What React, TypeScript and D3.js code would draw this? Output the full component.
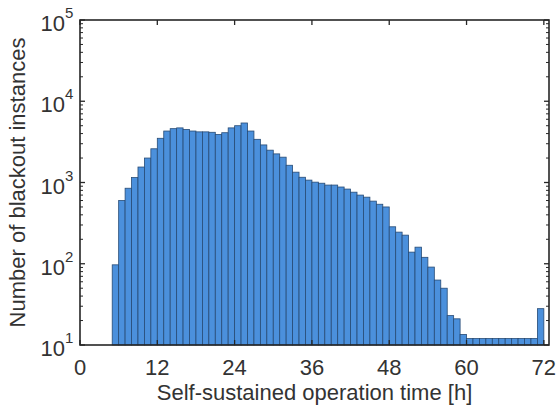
import * as d3 from 'd3';

// hourly bins of self-sustained operation time (bin start, in hours)
const binStart = [
  5, 6, 7, 8, 9, 10, 11, 12, 13, 14, 15, 16, 17, 18, 19, 20, 21, 22, 23, 24,
  25, 26, 27, 28, 29, 30, 31, 32, 33, 34, 35, 36, 37, 38, 39, 40, 41, 42, 43, 44,
  45, 46, 47, 48, 49, 50, 51, 52, 53, 54, 55, 56, 57, 58, 59, 60, 61, 62, 63, 64,
  65, 66, 67, 68, 69, 70, 71,
];

// number of blackout instances per bin
const counts = [
  97, 600, 850, 1150, 1550, 2000, 2600, 3500, 4300, 4600, 4700, 4500, 4300, 4200, 4200, 4150, 3900, 4100, 4700, 5000,
  5400, 4300, 3400, 2900, 2500, 2250, 2050, 1630, 1340, 1160, 1070, 1010, 980, 930, 930, 880, 830, 760, 700, 660,
  590, 540, 500, 285, 245, 225, 139, 160, 120, 91, 63, 50, 23, 21, 13.5, 12, 12, 12, 12, 12,
  12, 12, 12, 12, 12, 12, 28,
];

const xTicks = [0, 12, 24, 36, 48, 60, 72];
const yExponents = [1, 2, 3, 4, 5];

const W = 559;
const H = 408;
const margin = { top: 20, right: 10, bottom: 63, left: 80 };
const ink = '#262626';
const font = 'Arial, "Liberation Sans", Helvetica, sans-serif';

export default function App() {
  const x = d3.scaleLinear().domain([0, 72.8]).range([margin.left, W - margin.right]);
  const y = d3.scaleLog().domain([10, 1e5]).range([H - margin.bottom, margin.top]);

  const [x0, x1] = x.range();
  const [yb, yt] = y.range();

  // minor log ticks (2..9 within each decade)
  const minor: number[] = [];
  yExponents.slice(0, -1).forEach((e) => {
    for (let k = 2; k <= 9; k++) minor.push(k * Math.pow(10, e));
  });

  return (
    <svg width={W} height={H} style={{ position: 'absolute', left: 0, top: 0, background: '#fff' }}>
      {/* bars */}
      <g>
        {binStart.map((h, i) => (
          <rect
            key={h}
            x={x(h)}
            y={y(counts[i])}
            width={x(h + 1) - x(h)}
            height={yb - y(counts[i])}
            fill="#4b90dc"
            stroke="#274b75"
            strokeWidth={0.8}
          />
        ))}
      </g>

      {/* frame */}
      <rect x={x0} y={yt} width={x1 - x0} height={yb - yt} fill="none" stroke={ink} strokeWidth={1.6} />

      {/* x ticks, bottom and top */}
      {xTicks.map((t) => (
        <g key={'xt' + t}>
          <line x1={x(t)} x2={x(t)} y1={yb} y2={yb - 5} stroke={ink} strokeWidth={1.3} />
          <line x1={x(t)} x2={x(t)} y1={yt} y2={yt + 5} stroke={ink} strokeWidth={1.3} />
          <text
            x={x(t)}
            y={yb + 30}
            textAnchor="middle"
            fontFamily={font}
            fontSize={22}
            fill="#333"
          >
            {t}
          </text>
        </g>
      ))}

      {/* y major ticks with 10^n labels */}
      {yExponents.map((e) => {
        const v = Math.pow(10, e);
        return (
          <g key={'yt' + e}>
            <line x1={x0} x2={x0 + 5} y1={y(v)} y2={y(v)} stroke={ink} strokeWidth={1.3} />
            <line x1={x1} x2={x1 - 5} y1={y(v)} y2={y(v)} stroke={ink} strokeWidth={1.3} />
            <text x={x0 - 15} y={y(v) + 11} textAnchor="end" fontFamily={font} fontSize={22} fill="#333">
              10
            </text>
            <text x={x0 - 15} y={y(v) - 2} textAnchor="start" fontFamily={font} fontSize={15} fill="#333">
              {e}
            </text>
          </g>
        );
      })}

      {/* y minor ticks */}
      {minor.map((v) => (
        <g key={'ym' + v}>
          <line x1={x0} x2={x0 + 3} y1={y(v)} y2={y(v)} stroke={ink} strokeWidth={1} />
          <line x1={x1} x2={x1 - 3} y1={y(v)} y2={y(v)} stroke={ink} strokeWidth={1} />
        </g>
      ))}

      {/* axis titles */}
      <text
        x={(x0 + x1) / 2}
        y={H - 8}
        textAnchor="middle"
        fontFamily={font}
        fontSize={22}
        fill="#333"
      >
        Self-sustained operation time [h]
      </text>
      <text
        transform={`translate(25,${(yb + yt) / 2}) rotate(-90)`}
        textAnchor="middle"
        fontFamily={font}
        fontSize={22}
        fill="#333"
      >
        Number of blackout instances
      </text>
    </svg>
  );
}
